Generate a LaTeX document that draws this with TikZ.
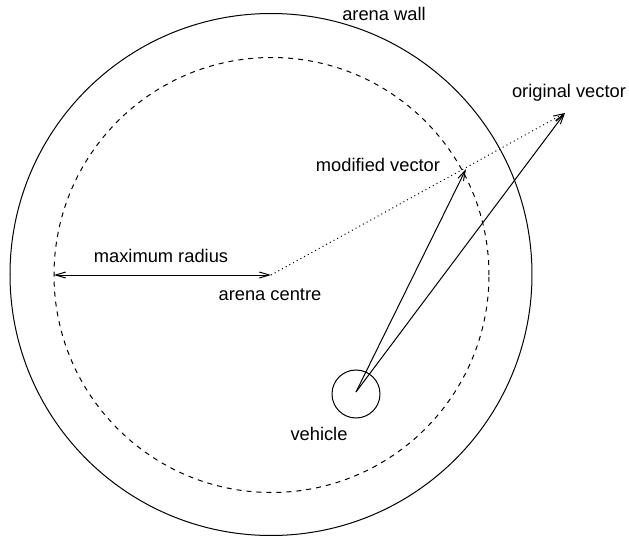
\documentclass[tikz,border=0pt]{standalone}
\usepackage{fontspec}
\setmainfont{Liberation Sans}
\usetikzlibrary{arrows.meta}
\begin{document}
\begin{tikzpicture}[x=0.5pt,y=-0.5pt,
  lbl/.style={font=\fontsize{9.15}{11}\selectfont, inner sep=0pt},
  ln/.style={line width=0.5pt}]
\useasboundingbox (0,0) rectangle (629,536);
% walls
\node[draw,ln,circle,minimum size=261pt,inner sep=0pt] (wall) at (271,274.5) {};
\node[draw,ln,circle,dash pattern=on 2.5pt off 2.5pt,minimum size=217.5pt,inner sep=0pt] (limit) at (271.5,275) {};
% points
\coordinate (centre) at (271,275);
\coordinate (left) at (54,275);
\coordinate (modtip) at (466,169);
\coordinate (origtip) at (565,113);
\node[draw,ln,circle,minimum size=24pt,inner sep=0pt] (veh) at (356,394) {};
\coordinate (vstart) at (356,392);
% connectors
\draw[ln,{Straight Barb[length=5pt,width=3pt]}-{Straight Barb[length=5pt,width=3pt]}] (left) -- (centre);
\draw[ln,dash pattern=on 0.5pt off 1.6pt,-{Straight Barb[length=5pt,width=3pt]}] (centre) -- (origtip);
\draw[ln,-{Straight Barb[length=5pt,width=3pt]}] (vstart) -- (modtip);
\draw[ln,-{Straight Barb[length=5pt,width=3pt]}] (vstart) -- (origtip);
% labels
\node[lbl] (lwall) at (384,14) {arena wall};
\node[lbl] (lorig) at (569,93) {original vector};
\node[lbl] (lmod) at (378,165) {modified vector};
\node[lbl] (lmax) at (161,256) {maximum radius};
\node[lbl] (lcentre) at (270,295) {arena centre};
\node[lbl] (lveh) at (319,434) {vehicle};
\end{tikzpicture}
\end{document}
